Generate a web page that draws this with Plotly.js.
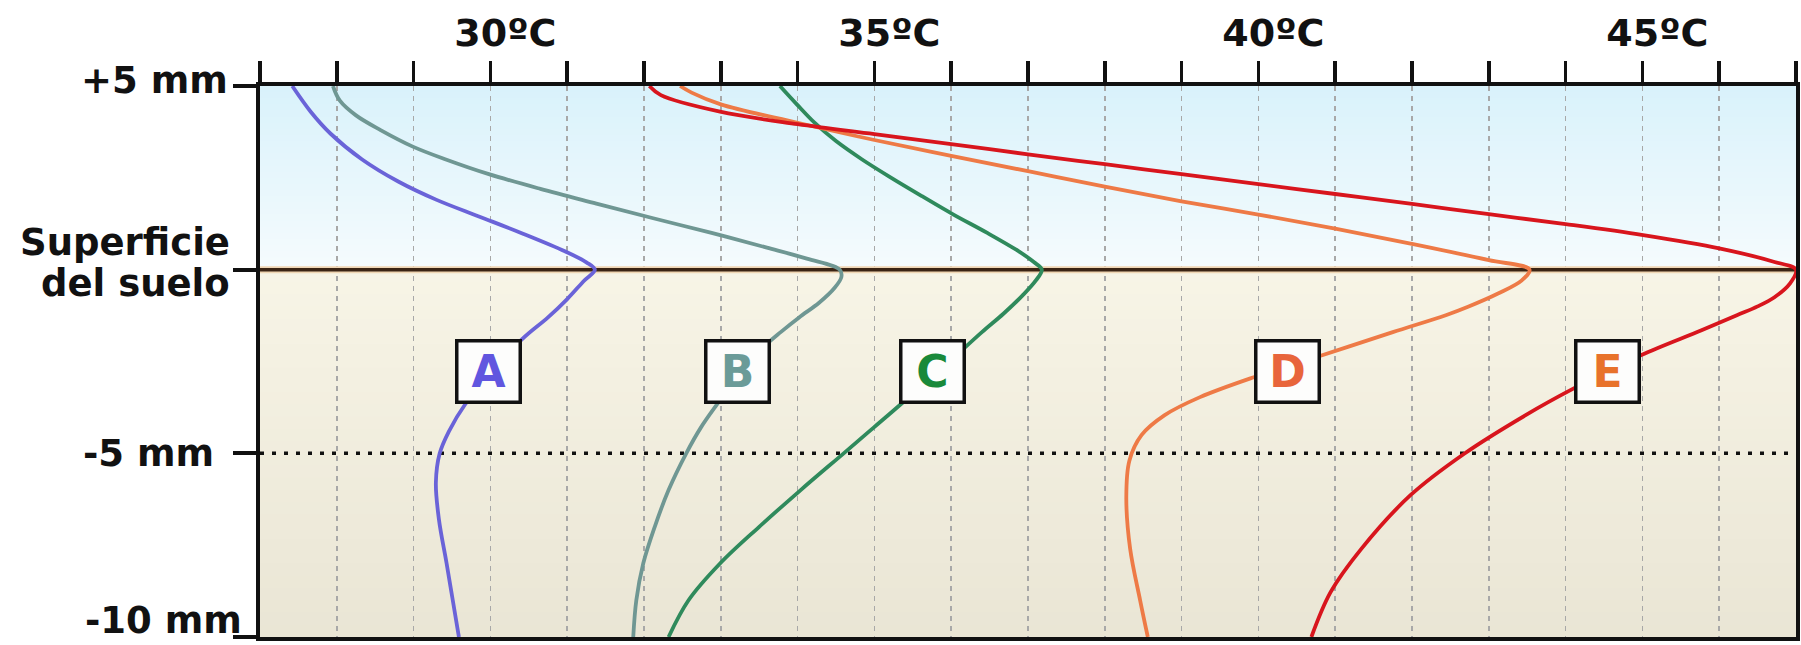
<!DOCTYPE html>
<html><head><meta charset="utf-8">
<script src="https://cdn.plot.ly/plotly-3.0.1.min.js"></script>
<style>html,body{margin:0;padding:0;background:#fff;}#chart{width:1801px;height:645px;}</style>
</head><body><div id="chart"></div>
<script>
// ---- data (depth in mm, temperature in ºC) ----
const seriesNames = ['A', 'B', 'C', 'D', 'E'];

const depthA = [5, 4.3, 3.7, 3.0, 2.4, 1.9, 1.45, 1.0, 0.5, 0.2, 0, -0.3, -0.8, -1.3, -1.9, -2.8, -3.67, -4.4, -5.0, -5.8, -6.8, -8.0, -9.0, -10];
const tempA  = [27.42, 27.66, 27.92, 28.33, 28.80, 29.30, 29.85, 30.40, 30.97, 31.25, 31.36, 31.22, 31.00, 30.75, 30.41, 30.02, 29.67, 29.46, 29.34, 29.29, 29.33, 29.43, 29.51, 29.59];

const depthB = [5, 4.6, 4.2, 3.8, 3.35, 3.0, 2.6, 2.2, 1.8, 1.4, 1.0, 0.6, 0.3, 0, -0.2, -0.5, -0.9, -1.3, -1.7, -2.1, -2.8, -3.67, -4.3, -5.0, -6.0, -7.0, -8.0, -9.0, -10];
const tempB  = [27.95, 28.04, 28.25, 28.57, 28.99, 29.42, 29.98, 30.65, 31.38, 32.12, 32.88, 33.60, 34.12, 34.55, 34.57, 34.48, 34.28, 34.02, 33.78, 33.56, 33.26, 32.95, 32.74, 32.55, 32.32, 32.14, 31.99, 31.90, 31.86];

const depthC = [5, 4.5, 4.0, 3.5, 3.0, 2.5, 2.0, 1.5, 1.0, 0.5, 0.2, 0, -0.3, -0.7, -1.2, -1.7, -2.4, -3.0, -3.67, -4.3, -5.0, -6.0, -7.0, -8.0, -9.0, -10];
const tempC  = [33.77, 33.99, 34.22, 34.50, 34.84, 35.22, 35.62, 36.03, 36.47, 36.88, 37.08, 37.18, 37.10, 36.93, 36.68, 36.40, 36.03, 35.70, 35.34, 34.99, 34.60, 34.04, 33.50, 32.99, 32.58, 32.32];

const depthD = [5, 4.82, 4.5, 4.0, 3.53, 3.10, 2.68, 2.26, 1.86, 1.50, 1.12, 0.70, 0.26, 0, -0.29, -0.65, -1.01, -1.24, -1.70, -2.33, -2.92, -3.47, -3.96, -4.5, -5.2, -6.2, -7.6, -9.0, -10];
const tempD  = [32.47, 32.62, 33.0, 34.0, 35.0, 36.0, 37.0, 38.0, 39.0, 40.0, 41.0, 42.0, 43.0, 43.53, 43.43, 43.12, 42.73, 42.44, 41.75, 40.83, 39.95, 39.24, 38.78, 38.48, 38.32, 38.28, 38.33, 38.46, 38.56];

const depthE = [5, 4.75, 4.30, 3.96, 3.69, 3.42, 3.14, 2.87, 2.60, 2.33, 2.06, 1.79, 1.51, 1.24, 0.94, 0.58, 0.21, 0, -0.38, -0.75, -1.0, -1.24, -1.65, -2.33, -3.24, -3.96, -5.01, -6.14, -7.60, -8.78, -10];
const tempE  = [32.07, 32.22, 32.99, 34.0, 35.0, 36.0, 37.0, 38.0, 39.0, 40.0, 41.0, 42.0, 43.0, 44.0, 45.01, 46.0, 46.72, 47.0, 46.92, 46.72, 46.50, 46.23, 45.77, 44.98, 44.10, 43.48, 42.68, 41.98, 41.34, 40.94, 40.69];

// curve label boxes
const labelTemps = [29.98, 33.22, 35.75, 40.38, 44.55];
const labelDepth = -2.76;

// axes
const tempMin = 27, tempMax = 47;
const depthMin = -10, depthMax = 5;
const surfaceDepth = 0;
const refDepth = -5;
const xLabelTemps = [30, 35, 40, 45];
const xLabelTexts = ['30ºC', '35ºC', '40ºC', '45ºC'];
const yLabelDepths = [5, 0, -5, -10];
const yLabelTexts = ['+5 mm', 'Superficie<br>del suelo', '-5 mm', '-10 mm'];

// ---- styles ----
const lineColors  = ['#6a63d8', '#6f9793', '#2f8a5c', '#ee7a46', '#d8151d'];
const labelColors = ['#6156df', '#6b9b98', '#19893a', '#e8653b', '#e8722b'];
const FONT = 'DejaVu Sans, Liberation Sans, Arial, sans-serif';
const yLabelShiftY = [6, 0, 0, 17];
const yLabelShiftX = [-30, -28, -44, -16];
const multiLineShift = [27, -14];

const depthArrays = [depthA, depthB, depthC, depthD, depthE];
const tempArrays  = [tempA, tempB, tempC, tempD, tempE];

const traces = seriesNames.map((n, i) => ({
  type: 'scatter', mode: 'lines', name: n,
  x: tempArrays[i], y: depthArrays[i],
  line: {color: lineColors[i], width: 3.8, shape: 'spline', smoothing: 1.0},
  hoverinfo: 'skip', showlegend: false
}));

// background bands (vertical gradient approximated by strips)
function mix(c1, c2, t) {
  const a = [1,3,5].map(k => parseInt(c1.substr(k,2),16));
  const b = [1,3,5].map(k => parseInt(c2.substr(k,2),16));
  return 'rgb(' + a.map((v,j) => Math.round(v + (b[j]-v)*t)).join(',') + ')';
}
const shapes = [];
const N = 30;
for (let i = 0; i < N; i++) {
  const y0 = depthMax - (depthMax - surfaceDepth) * i / N;
  const y1 = depthMax - (depthMax - surfaceDepth) * (i + 1) / N;
  shapes.push({type:'rect', xref:'x', yref:'y', x0: tempMin, x1: tempMax, y0: y0, y1: y1 - 0.02,
    fillcolor: mix('#d9f2fb', '#f5fbfd', i/(N-1)), line:{width:0}, layer:'below'});
}
for (let i = 0; i < N; i++) {
  const y0 = surfaceDepth - (surfaceDepth - depthMin) * i / N;
  const y1 = surfaceDepth - (surfaceDepth - depthMin) * (i + 1) / N;
  shapes.push({type:'rect', xref:'x', yref:'y', x0: tempMin, x1: tempMax, y0: y0, y1: y1 - 0.02,
    fillcolor: mix('#f7f4e6', '#eae6d5', i/(N-1)), line:{width:0}, layer:'below'});
}
// -5 mm dotted reference line
shapes.push({type:'line', xref:'x', yref:'y', x0: tempMin, x1: tempMax, y0: refDepth, y1: refDepth,
  line:{color:'#111', width:3.5, dash:'4px,8px'}, layer:'between'});
// soil surface line
shapes.push({type:'line', xref:'x', yref:'y', x0: tempMin, x1: tempMax, y0: surfaceDepth, y1: surfaceDepth,
  line:{color:'#f0d6b4', width:7}, layer:'between'});
shapes.push({type:'line', xref:'x', yref:'y', x0: tempMin, x1: tempMax, y0: surfaceDepth, y1: surfaceDepth,
  line:{color:'#3b2414', width:3.5}, layer:'between'});

const tickVals = [];
for (let t = tempMin; t <= tempMax; t++) tickVals.push(t);
const tickText = tickVals.map(t => { const k = xLabelTemps.indexOf(t); return k >= 0 ? xLabelTexts[k] : ''; });

const annotations = [];
seriesNames.forEach((n, i) => {
  annotations.push({x: labelTemps[i], y: labelDepth, xref:'x', yref:'y', text: n, showarrow:false,
    font:{family: FONT, size: 44, color: labelColors[i], weight: 'bold'},
    bgcolor:'#fdfdfc', bordercolor:'#111', borderwidth:3.5, borderpad:0, width:60, height:58,
    xanchor:'center', yanchor:'middle', valign:'middle'});
});
yLabelDepths.forEach((d, i) => {
  const lines = yLabelTexts[i].split('<br>');
  lines.forEach((txt, j) => {
    const ys = lines.length > 1 ? multiLineShift[j] : yLabelShiftY[i];
    annotations.push({x: 0, xref:'paper', y: d, yref:'y', text: txt, showarrow:false,
      xanchor:'right', yanchor:'middle', align:'right', xshift: yLabelShiftX[i], yshift: ys,
      font:{family: FONT, size: 37, color:'#111', weight:'bold'}});
  });
});

const layout = {
  width: 1801, height: 645,
  margin: {l: 260, r: 5, t: 86, b: 8, pad: 0},
  paper_bgcolor: '#ffffff', plot_bgcolor: '#ffffff',
  showlegend: false,
  xaxis: {
    side: 'top', range: [tempMin, tempMax], tickmode: 'array', tickvals: tickVals, ticktext: tickText,
    ticks: 'outside', ticklen: 21, tickwidth: 3.5, tickcolor: '#111',
    showline: true, linewidth: 4, linecolor: '#111', mirror: true,
    showgrid: true, gridcolor: '#a8a8a8', gridwidth: 1.5, griddash: '5px,5px',
    zeroline: false, ticklabelshift: 15,
    tickfont: {family: FONT, size: 38, color: '#111', weight: 'bold'}, fixedrange: true
  },
  yaxis: {
    range: [depthMin, depthMax], tickmode: 'array', tickvals: yLabelDepths, ticktext: yLabelDepths.map(() => ''),
    ticks: 'outside', ticklen: 23, tickwidth: 4, tickcolor: '#111',
    showline: true, linewidth: 4, linecolor: '#111', mirror: true,
    showgrid: false, zeroline: false, showticklabels: false, fixedrange: true
  },
  shapes: shapes,
  annotations: annotations
};

Plotly.newPlot('chart', traces, layout, {displayModeBar: false, staticPlot: true});
</script>
</body></html>
